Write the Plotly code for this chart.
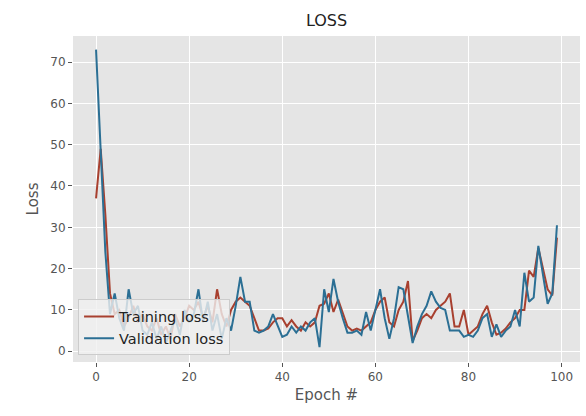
import plotly.graph_objects as go

epochs = list(range(100))

train_loss = [
    37, 49, 33, 14, 9, 10, 6, 8, 11, 7, 9,
    6, 5, 8, 4, 6, 3, 9, 6, 8, 11,
    10, 12, 8, 11, 7, 15, 9, 6, 10, 12, 13,
    12, 11, 8, 5, 5, 5.5, 7, 8, 8, 6, 7.5, 6, 5, 7, 6, 7, 11,
    11.5, 14, 9.5, 12.5, 9, 6, 5, 5.5, 5, 6, 7, 10, 12,
    13, 7, 6, 10, 12, 17, 2.5, 5, 8,
    9, 8, 10, 11, 12, 14, 6, 6, 10, 4, 5, 6, 9, 11,
    7, 4, 4.5, 5.5, 7, 8, 10, 10, 19.5, 18, 25, 20, 15, 13.5, 27.5,
]

val_loss = [
    73, 49, 24, 9, 14, 8, 5, 15, 9, 11, 5,
    4, 7, 3, 6, 2, 5, 8, 4, 10, 7,
    9, 15, 7, 12, 5, 9, 3, 8, 5, 11, 18,
    12, 12, 5, 4.5, 5, 6, 9, 6, 3.5, 4, 6, 4.5, 6, 5, 7, 8, 1,
    15, 9.5, 17.5, 12, 8, 4.5, 4.5, 5, 4, 9.5, 5, 10, 15,
    8, 3, 8, 15.5, 15, 8, 2, 6, 9,
    11, 14.5, 12, 10.5, 10, 5, 5, 5, 3.5, 4, 3.5, 5, 8, 9,
    3.5, 6.5, 3.5, 5, 6, 10, 6, 19, 12, 13, 25.5, 18, 11.5, 14, 30.5,
]

x_ticks = [0, 20, 40, 60, 80, 100]
y_ticks = [0, 10, 20, 30, 40, 50, 60, 70]

fig = go.Figure()
fig.add_trace(go.Scatter(x=epochs, y=train_loss, mode="lines", name="Training loss",
                         line=dict(color="#A8402F", width=2)))
fig.add_trace(go.Scatter(x=epochs, y=val_loss, mode="lines", name="Validation loss",
                         line=dict(color="#2B6F94", width=2)))

fig.update_layout(
    width=586, height=416,
    margin=dict(l=73, r=6, t=36, b=54, autoexpand=False),
    paper_bgcolor="white",
    plot_bgcolor="#E5E5E5",
    font=dict(family="DejaVu Sans", color="#555555", size=12),
    title=dict(text="LOSS", x=(73 + 580) / 2 / 586, xanchor="center",
               y=1 - 20 / 416, yanchor="middle", automargin=False,
               font=dict(size=16, color="#222222")),
    showlegend=True,
    legend=dict(x=0.01, y=0.02, xanchor="left", yanchor="bottom",
                bgcolor="rgba(240,240,240,0.8)", bordercolor="#CCCCCC", borderwidth=1,
                font=dict(size=14.5, color="#222222"), tracegroupgap=0),
    xaxis=dict(range=[-4.95, 103.95], tickvals=x_ticks, showgrid=True, gridcolor="white",
               gridwidth=1, zeroline=False, showline=False, ticks="outside", ticklen=4,
               tickcolor="#555555", automargin=False,
               title=dict(text="Epoch #", font=dict(size=15, color="#555555"), standoff=6)),
    yaxis=dict(range=[-2.6, 76.3], tickvals=y_ticks, showgrid=True, gridcolor="white",
               gridwidth=1, zeroline=False, showline=False, ticks="outside", ticklen=4,
               tickcolor="#555555", automargin=False,
               title=dict(text="Loss", font=dict(size=15, color="#555555"), standoff=8)),
)

fig.write_html("out.html",
               config={"displayModeBar": False},
               post_script="document.body.style.margin='0';document.body.style.overflow='hidden';")
